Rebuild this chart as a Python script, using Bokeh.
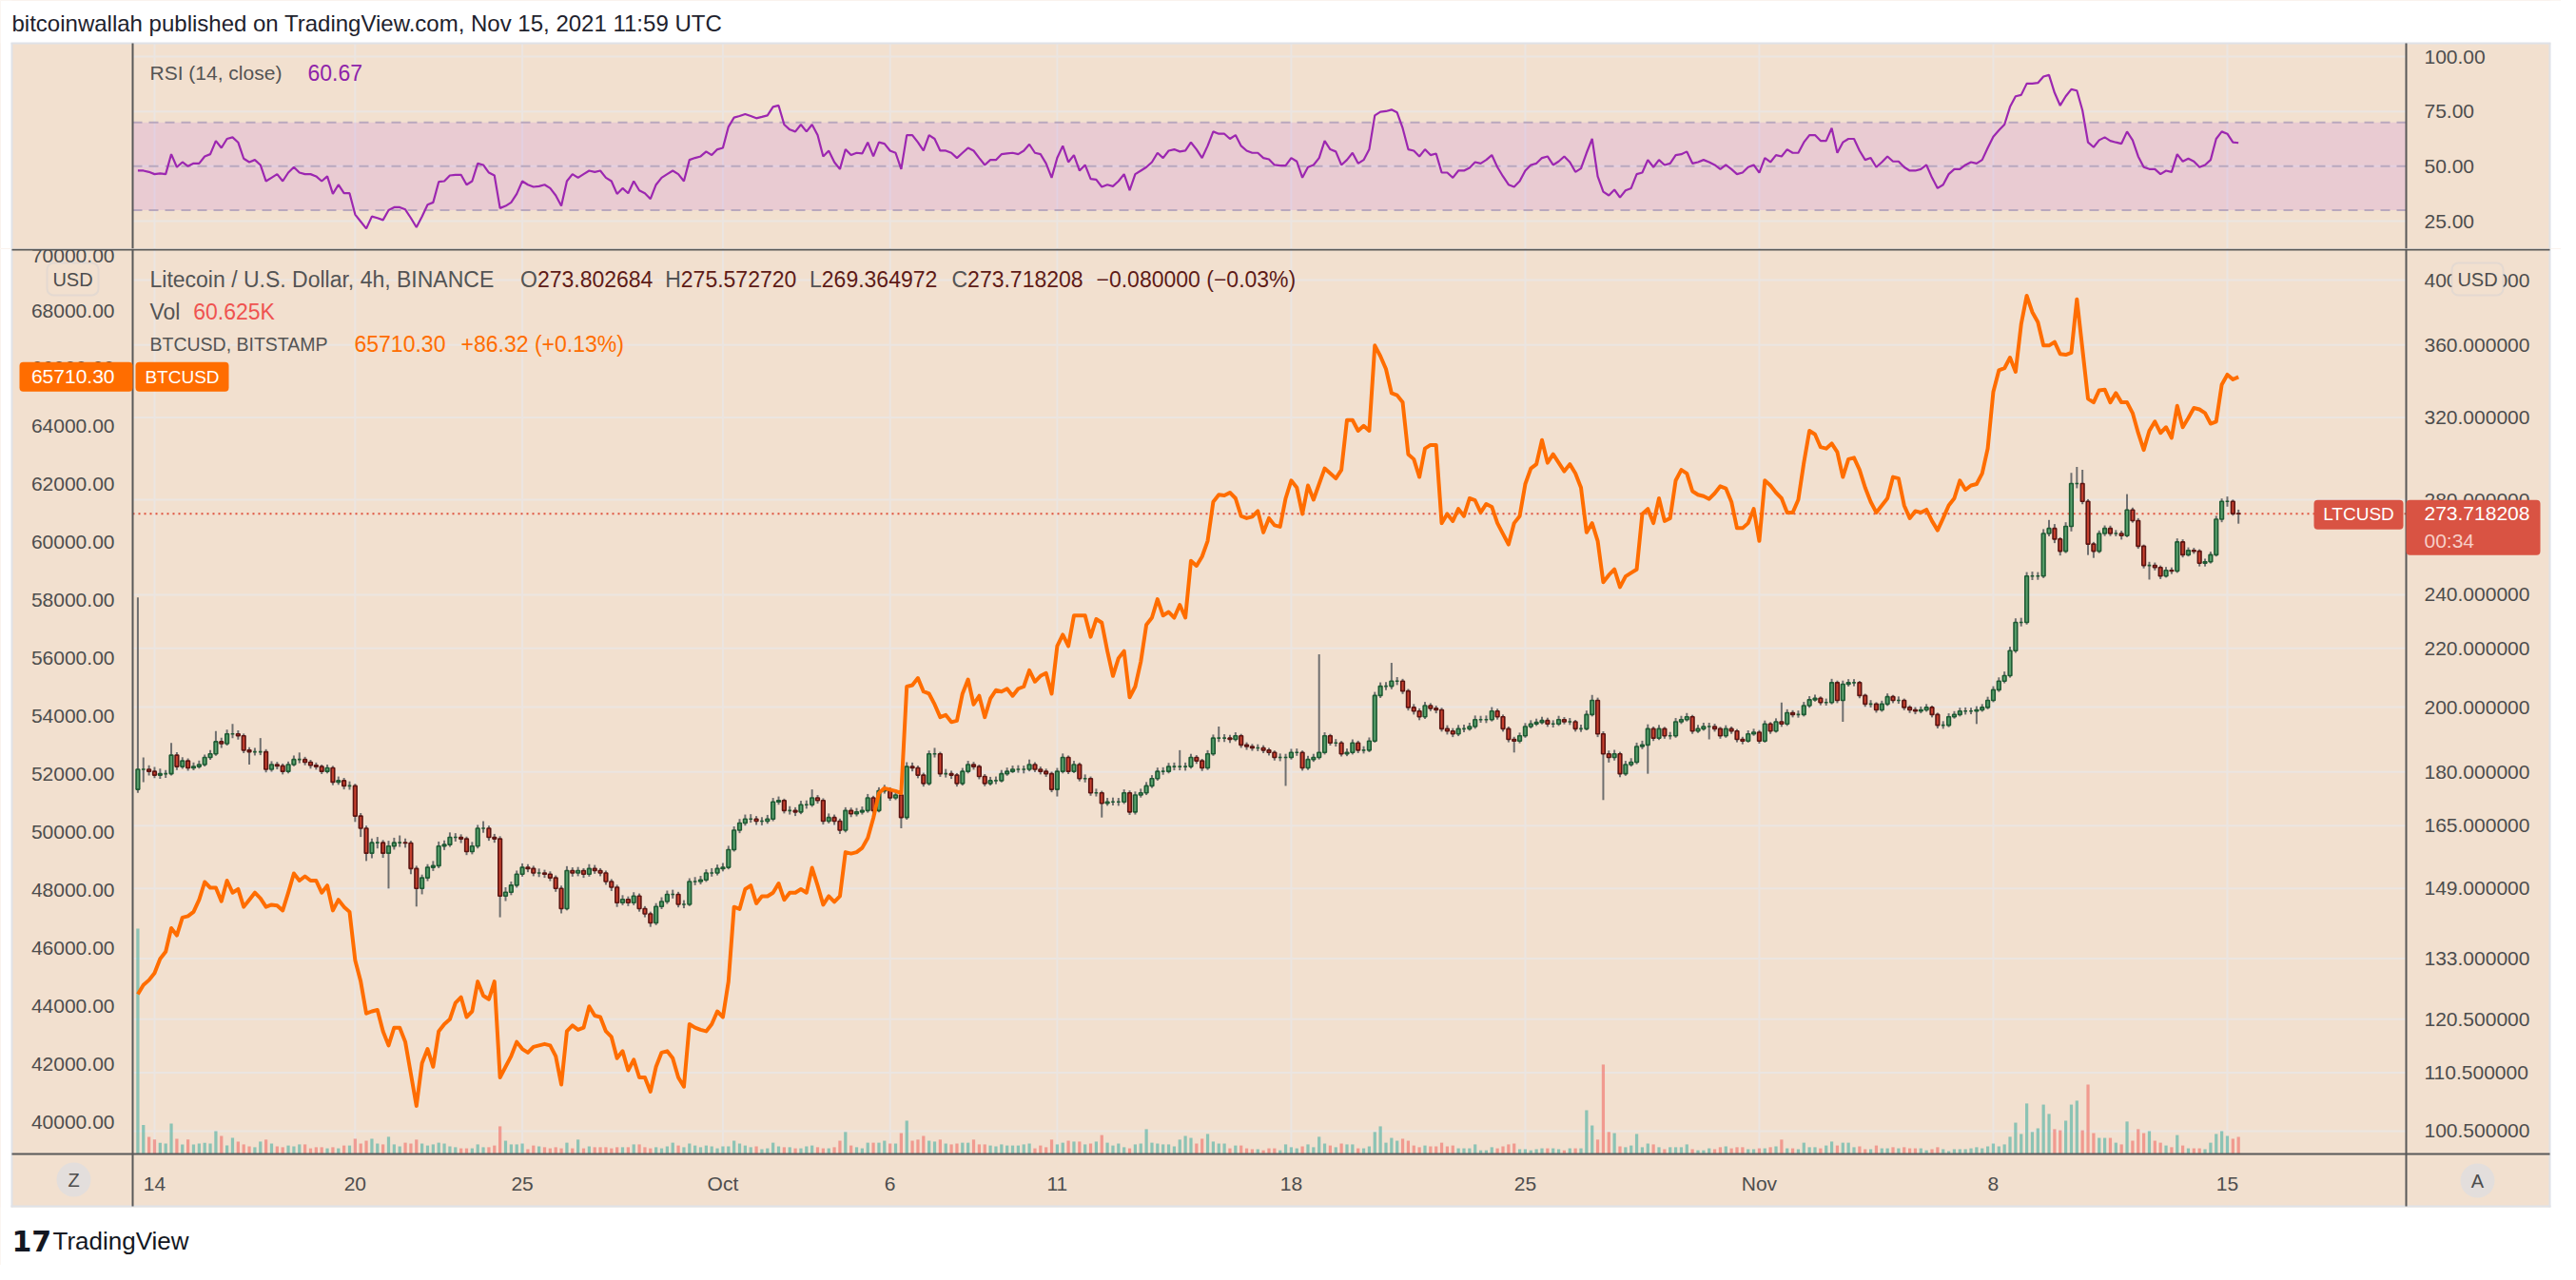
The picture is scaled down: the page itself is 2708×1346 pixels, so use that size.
import numpy as np
import pandas as pd
from bokeh.plotting import figure
from bokeh.layouts import column
from bokeh.models import (ColumnDataSource, Range1d, LinearAxis, FixedTicker,
                          PrintfTickFormatter, LinearScale, BoxAnnotation, Label)
from bokeh.embed import file_html
from bokeh.resources import INLINE

# ------------------------------------------------------------------ data
START = "2021-09-13 12:00"          # open time of first 4h candle (UTC)
LTC_FIRST_OPEN = 175.0
LTC_LAST_OPEN = 273.802684

LTC_CLOSE = [
 180.8, 180.8, 180.2, 179.1, 179.5, 179.5, 185.0, 181.6, 183.3, 181.2,
 181.6, 182.2, 184.3, 185.4, 189.1, 188.5, 191.5, 191.5, 190.9, 186.5,
 186.0, 186.0, 186.0, 180.8, 182.2, 181.8, 180.2, 182.2, 183.7, 183.7,
 182.9, 182.0, 181.6, 180.2, 181.2, 177.1, 177.5, 176.0, 176.0, 167.6,
 164.3, 157.8, 160.5, 160.5, 157.8, 159.6, 160.5, 160.5, 160.4, 153.9,
 149.0, 151.6, 154.2, 154.6, 159.6, 160.0, 161.9, 161.9, 161.5, 158.2,
 159.6, 164.3, 164.3, 161.9, 161.5, 147.2, 148.1, 149.8, 152.5, 154.2,
 153.9, 152.8, 152.8, 152.5, 151.6, 149.0, 144.2, 153.4, 152.8, 153.4,
 152.5, 153.9, 153.4, 152.8, 150.7, 149.3, 145.6, 146.4, 145.6, 147.2,
 144.2, 143.0, 140.9, 144.7, 145.9, 147.6, 147.6, 145.2, 145.2, 150.7,
 150.7, 151.1, 152.8, 152.8, 153.9, 154.2, 158.7, 163.8, 165.7, 166.8,
 166.8, 166.2, 166.2, 166.8, 171.5, 171.9, 169.1, 169.1, 168.7, 170.7,
 170.7, 172.6, 171.9, 166.2, 167.2, 166.2, 163.8, 169.1, 168.2, 168.7,
 169.1, 172.6, 169.1, 174.6, 175.0, 172.6, 173.4, 167.2, 181.6, 181.2,
 179.1, 176.7, 185.4, 185.4, 179.5, 179.5, 179.1, 176.7, 180.2, 182.2,
 181.6, 178.7, 176.7, 177.5, 177.5, 179.5, 180.2, 180.8, 180.8, 180.8,
 182.2, 180.8, 180.2, 179.5, 175.0, 180.2, 184.3, 180.2, 182.2, 178.1,
 178.1, 174.0, 174.0, 171.1, 171.5, 171.5, 171.5, 174.0, 168.7, 173.4,
 174.0, 176.0, 178.1, 180.2, 180.2, 181.6, 181.6, 181.6, 181.6, 184.3,
 183.3, 181.2, 185.4, 190.2, 190.2, 190.2, 189.8, 190.9, 188.1, 187.6,
 187.2, 187.2, 186.5, 185.8, 184.3, 184.3, 184.3, 185.8, 185.8, 181.2,
 183.7, 184.3, 185.8, 190.9, 188.7, 188.7, 185.4, 185.8, 188.7, 186.5,
 186.5, 189.3, 203.8, 206.9, 206.9, 208.6, 208.6, 205.3, 199.9, 198.7,
 196.9, 200.5, 199.6, 199.1, 193.1, 192.4, 191.5, 193.1, 193.1, 193.8,
 196.0, 196.0, 196.0, 198.7, 196.9, 193.1, 189.8, 189.3, 190.9, 193.8,
 194.6, 195.1, 195.7, 194.6, 194.6, 196.0, 195.3, 195.3, 193.1, 193.1,
 197.6, 202.2, 191.5, 185.4, 184.3, 185.4, 179.5, 182.2, 182.9, 187.6,
 188.1, 193.1, 190.2, 193.1, 190.9, 190.9, 195.3, 196.0, 196.9, 192.4,
 193.1, 193.8, 193.8, 193.1, 190.9, 193.1, 192.4, 189.8, 189.3, 191.5,
 192.0, 189.3, 194.6, 192.4, 195.3, 194.6, 198.2, 197.6, 197.6, 200.5,
 202.4, 202.9, 201.5, 201.5, 208.1, 202.2, 207.6, 208.1, 208.1, 203.8,
 201.0, 201.0, 199.1, 201.0, 203.4, 202.2, 202.2, 199.9, 199.1, 198.7,
 199.1, 199.9, 197.6, 194.2, 194.2, 196.9, 197.6, 198.7, 198.7, 198.7,
 199.1, 199.9, 202.2, 205.7, 208.6, 210.5, 219.2, 229.5, 229.5, 247.4,
 247.4, 247.4, 265.1, 267.3, 262.7, 257.6, 268.2, 287.5, 287.5, 279.3,
 260.6, 257.6, 265.1, 267.3, 265.1, 265.1, 264.2, 275.4, 270.7, 259.7,
 251.7, 251.7, 250.9, 247.4, 249.7, 249.4, 261.5, 256.1, 257.9, 257.6,
 252.6, 253.2, 256.1, 271.3, 279.3, 279.3, 273.798208, 273.718208]

LTC_HIGH = [
 239.0, 184.3, 182.0, 181.5, 181.0, 180.6, 188.7, 185.9, 184.4, 184.0,
 182.8, 183.4, 185.2, 186.5, 192.4, 190.3, 192.8, 194.6, 192.6, 191.6,
 187.4, 187.2, 190.2, 186.8, 183.2, 183.0, 182.5, 183.1, 184.9, 185.8,
 184.5, 183.6, 182.8, 182.2, 182.2, 181.8, 178.7, 178.3, 177.3, 176.6,
 168.4, 165.0, 161.6, 162.0, 161.2, 161.0, 161.8, 162.4, 161.6, 161.0,
 154.6, 152.4, 155.0, 155.8, 160.8, 161.1, 163.2, 163.0, 162.7, 162.1,
 160.7, 165.2, 166.2, 165.0, 162.8, 162.2, 149.3, 150.7, 153.4, 155.2,
 155.0, 154.6, 153.9, 153.6, 153.2, 152.2, 149.7, 154.5, 154.2, 154.3,
 154.0, 155.0, 154.8, 154.0, 153.4, 151.3, 149.9, 147.4, 147.1, 148.1,
 147.8, 144.8, 143.5, 145.5, 146.9, 148.5, 148.7, 148.2, 146.2, 151.5,
 151.8, 152.1, 153.7, 154.0, 154.9, 155.3, 159.7, 164.8, 166.8, 168.0,
 168.1, 167.6, 167.3, 167.9, 172.6, 173.0, 172.4, 170.3, 170.0, 171.8,
 171.9, 175.0, 173.4, 172.5, 168.3, 168.0, 166.9, 170.0, 169.9, 169.8,
 170.2, 173.7, 173.2, 175.6, 176.3, 175.6, 174.5, 174.0, 182.9, 182.8,
 181.9, 179.8, 186.4, 187.2, 186.0, 180.9, 180.4, 179.7, 181.2, 183.3,
 183.0, 182.2, 179.4, 178.6, 178.7, 180.6, 181.3, 181.9, 182.0, 181.9,
 183.7, 182.9, 181.6, 181.0, 180.1, 181.2, 185.5, 184.9, 183.3, 182.8,
 179.3, 178.7, 175.2, 174.6, 172.6, 172.7, 172.6, 175.0, 174.7, 174.4,
 175.2, 177.1, 179.1, 181.3, 181.4, 182.7, 182.8, 186.5, 182.8, 185.4,
 185.0, 183.9, 186.5, 191.3, 193.8, 191.4, 191.2, 192.0, 191.5, 188.9,
 188.4, 188.3, 188.0, 187.2, 186.4, 185.5, 185.4, 186.9, 187.0, 186.4,
 184.8, 185.4, 217.9, 192.0, 191.5, 189.9, 189.3, 187.0, 189.8, 189.4,
 187.7, 190.4, 205.0, 208.2, 208.3, 214.9, 210.0, 209.4, 206.0, 201.0,
 199.6, 201.7, 201.3, 200.5, 199.8, 194.2, 193.3, 194.3, 194.4, 195.0,
 197.3, 197.2, 197.3, 200.0, 199.5, 197.6, 193.8, 190.6, 191.9, 194.9,
 195.8, 196.3, 196.9, 196.6, 195.8, 197.2, 196.8, 196.5, 195.9, 194.4,
 198.9, 204.0, 203.1, 192.3, 186.4, 186.6, 186.0, 183.3, 184.1, 188.8,
 189.4, 194.5, 193.8, 194.3, 193.7, 192.1, 196.5, 197.2, 198.1, 197.5,
 194.3, 195.0, 195.0, 194.7, 193.7, 194.2, 193.8, 193.0, 190.6, 192.6,
 193.1, 192.7, 195.7, 195.2, 196.4, 201.5, 199.3, 199.0, 198.9, 201.7,
 203.6, 204.1, 203.5, 202.8, 209.4, 208.8, 208.8, 209.3, 209.3, 208.7,
 204.4, 202.3, 201.6, 202.1, 204.5, 204.0, 203.5, 202.8, 200.6, 200.0,
 200.2, 201.0, 200.5, 198.2, 195.5, 198.0, 198.7, 199.8, 199.9, 199.8,
 200.3, 201.0, 203.4, 206.9, 209.9, 211.9, 220.6, 231.0, 231.2, 249.0,
 249.2, 249.0, 267.0, 271.0, 269.2, 263.5, 270.0, 292.5, 295.4, 294.0,
 280.3, 261.5, 266.4, 268.6, 268.5, 266.6, 266.3, 282.6, 276.5, 271.8,
 260.4, 253.2, 252.9, 251.7, 251.1, 250.9, 263.0, 262.6, 259.2, 259.0,
 258.4, 254.5, 257.4, 272.8, 280.6, 281.5, 280.1, 275.572720]

LTC_LOW = [
 174.0, 177.1, 179.0, 178.2, 178.0, 178.3, 179.0, 180.6, 180.9, 180.4,
 180.5, 181.0, 181.6, 183.6, 184.8, 187.2, 187.9, 190.2, 189.7, 185.6,
 182.2, 184.9, 185.0, 179.9, 180.1, 180.8, 179.3, 179.6, 181.7, 182.6,
 182.0, 181.0, 180.7, 179.4, 179.6, 176.2, 176.3, 175.0, 174.9, 166.0,
 162.0, 155.8, 156.5, 159.0, 156.6, 149.0, 158.7, 159.4, 159.2, 152.5,
 144.7, 147.6, 150.8, 153.3, 154.0, 158.6, 159.4, 160.8, 160.4, 157.3,
 157.5, 159.0, 163.1, 161.0, 160.5, 142.2, 146.0, 147.4, 149.2, 151.9,
 153.0, 152.0, 151.8, 151.6, 150.8, 148.2, 143.1, 143.8, 151.9, 152.0,
 151.6, 151.9, 152.6, 152.0, 149.9, 148.4, 144.6, 145.0, 144.8, 145.0,
 143.5, 142.2, 140.0, 140.4, 144.1, 145.3, 146.6, 144.5, 144.3, 144.8,
 149.8, 150.0, 150.6, 151.9, 152.2, 153.2, 153.7, 158.2, 163.0, 165.0,
 165.8, 165.2, 165.1, 165.5, 166.2, 170.7, 168.3, 168.0, 167.6, 168.1,
 169.6, 170.1, 171.0, 165.3, 165.6, 165.2, 162.8, 163.2, 167.3, 167.5,
 168.0, 168.5, 168.3, 168.6, 173.8, 171.8, 172.0, 164.3, 166.6, 180.2,
 178.2, 175.8, 176.1, 184.3, 178.6, 178.4, 178.0, 175.8, 176.1, 179.6,
 180.7, 177.9, 175.9, 176.1, 176.5, 177.0, 178.9, 179.7, 179.8, 179.6,
 180.2, 180.0, 179.3, 178.6, 174.2, 173.0, 179.6, 179.4, 179.7, 177.3,
 177.0, 173.2, 173.0, 167.2, 170.4, 170.5, 170.4, 170.9, 167.9, 168.0,
 172.7, 173.4, 175.4, 177.5, 179.2, 179.6, 180.5, 180.5, 180.4, 181.0,
 182.4, 180.3, 180.6, 184.8, 189.0, 189.0, 188.7, 189.2, 187.2, 186.6,
 186.3, 186.2, 185.6, 184.9, 183.4, 183.2, 176.0, 183.7, 184.8, 180.4,
 180.6, 183.0, 183.7, 185.2, 187.9, 187.6, 184.6, 184.7, 185.2, 185.6,
 185.5, 185.9, 188.8, 203.0, 205.6, 205.9, 207.3, 204.3, 198.9, 197.6,
 195.8, 196.2, 198.7, 198.0, 192.2, 191.3, 190.5, 190.8, 192.0, 192.5,
 193.1, 195.0, 194.9, 195.4, 196.0, 192.2, 188.9, 185.8, 188.6, 190.3,
 193.2, 194.0, 194.5, 193.7, 193.5, 194.0, 194.5, 194.3, 192.2, 192.1,
 192.6, 197.0, 190.5, 172.0, 182.8, 183.4, 178.5, 178.9, 181.6, 182.3,
 186.8, 179.5, 189.3, 189.6, 190.0, 189.8, 190.3, 194.6, 195.4, 191.5,
 191.8, 192.5, 189.8, 192.2, 190.0, 190.3, 191.5, 188.9, 188.3, 188.8,
 190.9, 188.5, 188.8, 191.5, 191.9, 193.7, 194.0, 196.7, 196.6, 197.0,
 199.8, 201.8, 200.6, 200.5, 200.9, 201.3, 195.3, 206.8, 206.9, 202.9,
 200.1, 199.9, 198.2, 198.5, 200.4, 201.3, 201.1, 199.0, 198.1, 197.7,
 198.0, 198.5, 196.7, 193.2, 193.1, 193.6, 196.3, 197.0, 197.6, 197.7,
 194.6, 198.5, 199.3, 201.6, 205.0, 207.9, 209.8, 218.4, 228.0, 228.7,
 245.8, 245.9, 246.6, 263.9, 261.0, 255.8, 256.8, 266.0, 285.3, 278.0,
 256.0, 254.8, 256.8, 264.0, 264.0, 263.9, 262.5, 263.5, 269.8, 258.6,
 250.5, 246.0, 249.7, 246.2, 246.8, 248.2, 248.7, 255.0, 255.4, 256.5,
 251.3, 251.3, 252.5, 255.4, 270.0, 276.9, 272.9, 269.364972]

VOLUME_K = [
 799, 103, 61, 51, 40, 37, 108, 54, 34, 51,
 34, 37, 40, 37, 81, 64, 30, 57, 44, 34,
 27, 24, 44, 51, 37, 27, 24, 30, 27, 34,
 34, 20, 24, 24, 20, 24, 20, 30, 30, 54,
 37, 47, 54, 37, 34, 61, 34, 27, 40, 37,
 51, 37, 30, 34, 40, 37, 27, 24, 20, 20,
 20, 34, 24, 24, 30, 98, 47, 34, 34, 37,
 17, 30, 27, 24, 20, 24, 20, 40, 20, 51,
 20, 27, 24, 24, 24, 20, 24, 24, 24, 34,
 34, 24, 20, 24, 20, 27, 40, 30, 24, 37,
 30, 24, 30, 27, 20, 27, 27, 47, 37, 30,
 24, 27, 17, 20, 40, 27, 24, 24, 20, 20,
 27, 30, 24, 20, 20, 24, 47, 78, 30, 24,
 20, 40, 40, 40, 47, 37, 37, 74, 118, 47,
 51, 64, 47, 44, 51, 37, 34, 37, 40, 40,
 51, 34, 34, 30, 27, 34, 30, 30, 30, 34,
 37, 20, 30, 24, 51, 34, 40, 47, 44, 44,
 34, 37, 44, 67, 40, 30, 37, 24, 20, 34,
 37, 88, 40, 37, 34, 34, 27, 51, 64, 57,
 37, 54, 71, 44, 37, 37, 20,
 30, 30, 20, 17, 17, 13, 20, 20, 13, 34,
 24, 20, 27, 34, 24, 61, 37, 30, 24, 37,
 34, 34, 20, 20, 27, 78, 98, 40, 57, 47,
 54, 47, 30, 24, 30, 27, 27, 40, 27, 30,
 20, 20, 20, 34, 13, 13, 24, 20, 27, 34,
 37, 17, 17, 13, 17, 20, 20, 20, 17, 13,
 20, 20, 20, 155, 101, 51, 317, 78, 74, 27,
 24, 30, 71, 24, 37, 34, 24, 17, 24, 24,
 24, 34, 17, 13, 13, 20, 17, 24, 27, 20,
 24, 24, 17, 17, 20, 20, 24, 27, 51, 20,
 20, 17, 40, 24, 24, 20, 30, 44, 30, 40,
 40, 24, 27, 17, 17, 30, 20, 20, 24, 20,
 24, 20, 20, 20, 13, 17, 24, 17, 10, 17,
 17, 17, 20, 24, 20, 27, 37, 27, 34, 61,
 111, 71, 179, 78, 91, 175, 142, 88, 84, 118,
 175, 189, 84, 246, 74, 57, 57, 57, 40, 34,
 115, 47, 88, 74, 81, 47, 40, 30, 24, 67,
 30, 20, 20, 20, 17, 40, 71, 81, 64, 54,
 60.625]

BTC_CLOSE = [
 44424, 44743, 44914, 45159, 45649, 45894, 46703, 46458, 47070, 47119,
 47266, 47683, 48295, 48099, 48099, 47634, 48344, 47928, 48050, 47438,
 47683, 47928, 47732, 47438, 47511, 47487, 47315, 47928, 48589, 48344,
 48491, 48344, 48344, 47928, 48173, 47315, 47683, 47438, 47266, 45600,
 44865, 43763, 43836, 43885, 43150, 42660, 43273, 43273, 42783, 41680,
 40578, 42048, 42538, 41925, 43150, 43395, 43566, 44130, 44326, 43640,
 43836, 44865, 44375, 44253, 44865, 41558, 41925, 42293, 42783, 42538,
 42415, 42611, 42660, 42709, 42660, 42293, 41313, 43150, 43346, 43199,
 43273, 44008, 43689, 43640, 43150, 42954, 42219, 42464, 41803, 42170,
 41558, 41558, 41068, 41925, 42415, 42464, 42219, 41558, 41239, 43395,
 43273, 43199, 43150, 43395, 43836, 43640, 44865, 47438, 47364, 48050,
 48173, 47560, 47805, 47805, 47928, 48246, 47683, 47928, 47928, 48050,
 47928, 48785, 48173, 47511, 47805, 47609, 47805, 49324, 49275, 49324,
 49471, 49814, 50500, 51358, 51529, 51480, 51431, 51358, 55033, 55082,
 55327, 54861, 54788, 54420, 53979, 54053, 53808, 53857, 54788, 55278,
 54420, 54714, 53979, 54616, 54910, 54861, 54959, 54714, 54959, 55033,
 55596, 55204, 55400, 55498, 54788, 56429, 56821, 56429, 57482, 57482,
 57482, 56748, 57360, 57237, 56257, 55400, 56012, 56257, 54665, 55033,
 55890, 57164, 57409, 58046, 57482, 57605, 57409, 57850, 57409, 59369,
 59197, 59516, 60055, 61403, 61648, 61623, 61721, 61525, 60913, 60839,
 60888, 61084, 60349, 60839, 60594,
 60545, 61525, 62138, 61893, 60986, 61966, 61476, 62015, 62554, 62383,
 62211, 62505, 64220, 64220, 63853, 64024, 63853, 66793, 66425, 65984,
 65151, 65078, 64833, 63044, 62873, 62260, 63240, 63363, 63363, 60668,
 60986, 60741, 61158, 60913, 61525, 61452, 61035, 61329, 61231, 60668,
 60300, 59933, 60668, 60913, 62015, 62554, 62701, 63534, 62750, 63044,
 62750, 62456, 62701, 62383, 61893, 60349, 60668, 60055, 58634, 58879,
 59075, 58463, 58830, 58953, 59075, 60986, 61158, 60668, 61525, 60741,
 60839, 62138, 62505, 62383, 61770, 61648, 61599, 61501, 61697, 61942,
 61868, 61403, 60496, 60496, 60668, 61158, 60055, 62138, 61966, 61721,
 61525, 61035, 61035, 61476, 62750, 63853, 63730, 63289, 63240, 63412,
 63118, 62260, 62873, 62922, 62505, 61893, 61403, 61035, 61280, 61525,
 62260, 62211, 61280, 60839, 61084, 61035, 61133, 60741, 60423, 60839,
 61280, 61525, 62138, 61819, 61966, 62015, 62383, 63240, 65200, 65935,
 66009, 66376, 65886, 67528, 68508, 67944, 67601, 66793, 66793, 66915,
 66499, 66474, 66548, 68385, 66670, 64955, 64833, 65249, 65274, 64833,
 65151, 64833, 64833, 64465, 63779, 63191, 63853, 64171, 63779, 63975,
 63608, 64710, 63975, 64297, 64640, 64590, 64465, 64098, 64171, 65445,
 65788, 65623.98, 65710.30]

RSI_VALUES = [
 48.0, 48.0, 47.4, 46.4, 46.7, 46.4, 55.5, 49.6, 51.9, 50.0,
 51.3, 51.3, 54.5, 55.5, 61.6, 58.4, 62.5, 63.2, 60.9, 53.5,
 51.9, 52.9, 50.6, 43.2, 44.8, 46.4, 43.2, 47.1, 49.6, 47.1,
 46.4, 46.4, 45.4, 43.2, 45.4, 37.4, 41.6, 37.7, 37.7, 28.0,
 24.8, 21.6, 27.1, 26.4, 25.5, 30.0, 31.3, 31.3, 30.3, 26.4,
 22.2, 27.1, 32.5, 33.5, 42.9, 43.2, 45.8, 46.1, 46.1, 41.6,
 43.2, 51.3, 50.6, 47.1, 45.8, 30.9, 31.9, 33.5, 37.4, 43.2,
 41.6, 40.6, 40.9, 41.6, 40.0, 36.7, 31.9, 43.2, 46.4, 44.8,
 46.4, 48.0, 47.4, 48.0, 44.8, 43.2, 37.4, 40.0, 37.7, 43.2,
 39.0, 37.7, 35.1, 41.6, 44.8, 46.4, 48.0, 46.4, 43.2, 52.9,
 53.8, 54.5, 56.7, 55.1, 57.7, 58.4, 68.0, 72.2, 72.9, 73.8,
 72.9, 71.9, 72.5, 73.2, 77.1, 77.7, 69.0, 66.7, 65.8, 69.0,
 65.8, 69.0, 64.2, 54.5, 57.1, 51.9, 48.7, 57.7, 55.1, 56.1,
 55.8, 60.9, 54.5, 60.9, 60.3, 57.1, 56.1, 48.7, 64.2, 64.2,
 60.9, 57.1, 64.2, 62.5, 57.1, 57.1, 56.1, 53.8, 56.1, 58.4,
 57.1, 53.8, 50.6, 52.9, 52.9, 55.5, 55.8, 56.1, 55.5, 57.1,
 60.0, 56.1, 55.5, 51.3, 44.8, 53.8, 59.3, 51.9, 55.1, 48.0,
 50.6, 44.2, 43.9, 40.6, 41.6, 40.9, 43.2, 46.4, 39.0, 46.4,
 48.0, 49.6, 51.9, 56.1, 53.8, 57.1, 57.7, 56.7, 57.1, 60.9,
 57.7, 53.8, 59.3, 65.8, 64.8, 64.8, 62.5, 64.2, 59.3, 57.1,
 56.1, 56.1, 53.8, 53.2, 50.6, 50.3, 50.3, 53.8, 52.2, 44.8,
 49.6, 50.6, 53.8, 61.6, 57.7, 56.7, 50.6, 52.9, 56.1, 51.3,
 52.9, 57.7, 73.2, 74.8, 75.1, 75.8, 74.5, 67.4, 57.7, 57.1,
 54.5, 57.7, 55.1, 55.8, 47.1, 47.1, 44.8, 48.0, 48.0, 49.3,
 51.9, 51.3, 52.9, 55.1, 49.6, 45.4, 41.6, 40.6, 43.2, 48.0,
 50.6, 51.3, 53.8, 54.5, 50.6, 52.2, 54.5, 51.9, 47.4, 49.0,
 56.1, 62.5, 45.4, 38.4, 36.7, 39.3, 35.8, 39.0, 40.0, 46.4,
 47.1, 52.9, 49.6, 52.9, 50.6, 51.3, 55.1, 55.5, 56.7, 51.3,
 51.9, 52.9, 51.9, 50.6, 48.7, 50.6, 48.7, 46.4, 47.1, 49.6,
 50.6, 47.1, 53.8, 51.9, 55.1, 54.5, 57.7, 56.1, 56.1, 60.9,
 64.2, 64.2, 61.6, 61.6, 67.4, 56.1, 60.9, 62.5, 62.5, 57.1,
 52.9, 53.8, 49.6, 51.9, 54.5, 52.2, 52.2, 49.6, 48.0, 48.0,
 48.7, 50.6, 44.8, 40.0, 41.6, 46.4, 48.7, 48.7, 50.6, 51.9,
 51.3, 52.9, 58.4, 63.5, 66.4, 69.0, 77.1, 81.9, 82.5, 87.7,
 87.7, 88.0, 90.9, 91.6, 83.5, 77.7, 81.9, 85.1, 84.5, 75.5,
 60.9, 58.7, 61.9, 63.2, 61.6, 60.9, 60.3, 65.8, 61.9, 54.5,
 49.6, 48.7, 48.7, 46.4, 48.0, 47.4, 55.5, 52.2, 53.5, 52.2,
 49.6, 50.6, 52.9, 62.5, 65.8, 64.8, 60.9, 60.67]

TICK_DATES = ["2021-09-14", "2021-09-20", "2021-09-25", "2021-10-01", "2021-10-06",
              "2021-10-11", "2021-10-18", "2021-10-25", "2021-11-01", "2021-11-08",
              "2021-11-15"]
TICK_LABELS = ["14", "20", "25", "Oct", "6", "11", "18", "25", "Nov", "8", "15"]
LTC_TICKS = [100.5, 110.5, 120.5, 133, 149, 165, 180, 200, 220, 240, 280, 320, 360, 400]
BTC_TICKS = [40000, 42000, 44000, 46000, 48000, 50000, 52000, 54000, 56000, 58000,
             60000, 62000, 64000, 66000, 68000, 70000]
RSI_TICKS = [25, 50, 75, 100]
RSI_LEVELS = [30, 50, 70]
COUNTDOWN = "00:34"
HEADER = "bitcoinwallah published on TradingView.com, Nov 15, 2021 11:59 UTC"

# ------------------------------------------------------------------ derived
n = len(LTC_CLOSE)
assert all(len(a) == n for a in (LTC_HIGH, LTC_LOW, VOLUME_K, BTC_CLOSE, RSI_VALUES)), \
    [len(a) for a in (LTC_CLOSE, LTC_HIGH, LTC_LOW, VOLUME_K, BTC_CLOSE, RSI_VALUES)]
start = pd.Timestamp(START)
step = pd.Timedelta(hours=4)
xs = np.arange(n, dtype=float)                      # candle number (4h steps from START)
tick_x = [float((pd.Timestamp(d) - start) / step) for d in TICK_DATES]

opens = [LTC_FIRST_OPEN] + LTC_CLOSE[:-1]
opens[-1] = LTC_LAST_OPEN
closes = LTC_CLOSE
up = [c >= o for o, c in zip(opens, closes)]

# ------------------------------------------------------------------ page geometry
# page pixels (window coords); figures start at (8, 8)
PX0, PXSTEP = 152.4, 5.8575          # x pixel of candle 0, pixels per candle
def x_at(px):
    return (px - PX0) / PXSTEP

PANE_L, PANE_R = 147, 2537           # price-scale separators
TOP_Y, SPLIT_Y, TIME_Y, BOX_B = 53, 269, 1221, 1276
LTC_Y400, LTC_LNPX = 302.0, 647.9    # y of 400 on the log scale, px per ln-unit
BTC_Y68K, BTC_USDPX = 334.0, 32.787
VOL_PER_PX = 3.37
RSI_Y100, RSI_PXU = 67.0, 2.3067

def ltc_at(py):
    return 400.0 * np.exp(-(py - LTC_Y400) / LTC_LNPX)
def btc_at(py):
    return 68000.0 - (py - BTC_Y68K) * BTC_USDPX
def vol_at(py):
    return (TIME_Y - py) * VOL_PER_PX
def rsi_at(py):
    return 100.0 - (py - RSI_Y100) / RSI_PXU

W = 2692
HT, HM = SPLIT_Y - 8, 1338 - SPLIT_Y
XL, XR = x_at(PANE_L), x_at(PANE_R)
xr = Range1d(x_at(8), x_at(8 + W))

# ------------------------------------------------------------------ style
FONT = "Liberation Sans"
BG = "#f2e0cf"
WHITE = "#ffffff"
GRID = "#ebe5e1"
SEP = "#595959"
FRAME = "#dfe2e8"
AXIS_TXT = "#4d4d4d"
LEG_TXT = "#545454"
DARK_RED = "#5e1b17"
ORANGE = "#ff6d00"
PURPLE = "#9c27b0"
PURPLE_TXT = "#8e24aa"
UP_FILL, UP_LINE = "#58a06c", "#1e5a33"
DN_FILL, DN_LINE = "#c8412f", "#5c1512"
WICK = "#6f6f6f"
VOL_UP, VOL_DN = "#26a69a", "#ef5350"
PRICE_RED = "#d95343"
BAND = "#b45ae6"
BAND_LINE = "#b9a8bd"


def style_axis(ax, standoff):
    ax.axis_line_color = None
    ax.major_tick_line_color = None
    ax.minor_tick_line_color = None
    ax.major_tick_out = 0
    ax.major_tick_in = 0
    ax.major_label_standoff = standoff
    ax.major_label_text_font = FONT
    ax.major_label_text_font_size = "21px"
    ax.major_label_text_color = AXIS_TXT


def cbox(p, l, t, r, b, color, alpha=1.0, **kw):
    kw.setdefault("line_color", None)
    p.add_layout(BoxAnnotation(left=l, right=r, top=t, bottom=b,
                               left_units="canvas", right_units="canvas",
                               top_units="canvas", bottom_units="canvas",
                               fill_color=color, fill_alpha=alpha, **kw))


def ctext(p, x, y, text, color, size=21, align="left", font=FONT, style="normal"):
    p.add_layout(Label(x=x, y=y, x_units="canvas", y_units="canvas",
                       text=text, text_color=color, text_font=font,
                       text_font_size=f"{size}px", text_align=align,
                       text_baseline="middle", text_font_style=style))


def make_fig(h, yr, **kw):
    p = figure(width=W, height=h, x_range=xr, y_range=yr,
               min_border_left=0, min_border_right=0, min_border_top=0, min_border_bottom=0,
               toolbar_location=None, output_backend="svg",
               background_fill_color=BG, border_fill_color=BG, outline_line_color=None, **kw)
    p.grid.visible = False
    return p


# ------------------------------------------------------------------ RSI pane (+ header strip)
pt = make_fig(HT, Range1d(rsi_at(SPLIT_Y), rsi_at(8)), x_axis_location=None, y_axis_location="right")
rsi_axis = pt.yaxis[0]
rsi_axis.ticker = FixedTicker(ticks=RSI_TICKS)
rsi_axis.formatter = PrintfTickFormatter(format="%.2f")
rsi_axis.fixed_location = XR
style_axis(rsi_axis, 19)

R_TOP, R_BOT = rsi_at(TOP_Y), rsi_at(SPLIT_Y)
pt.segment(x0=[XL] * len(RSI_TICKS), y0=RSI_TICKS, x1=[XR] * len(RSI_TICKS), y1=RSI_TICKS,
           line_color=GRID, line_width=2)
pt.segment(x0=tick_x, y0=[R_BOT] * len(tick_x), x1=tick_x, y1=[R_TOP] * len(tick_x),
           line_color=GRID, line_width=2)
pt.quad(left=[XL], right=[XR], bottom=[RSI_LEVELS[0]], top=[RSI_LEVELS[-1]],
        fill_color=BAND, fill_alpha=0.15, line_color=None)
pt.segment(x0=[XL] * 3, y0=RSI_LEVELS, x1=[XR] * 3, y1=RSI_LEVELS,
           line_color=BAND_LINE, line_width=2, line_dash="10 7")
pt.line(xs, RSI_VALUES, line_color=PURPLE, line_width=2.2)

cbox(pt, 0, 0, W, TOP_Y - 8, WHITE)                        # header strip
cbox(pt, 0, 0, 12, HT, WHITE)
cbox(pt, 2680, 0, W, HT, WHITE)
cbox(pt, 11, 44, 2681, 46, FRAME)                          # chart box edges
cbox(pt, 11, 45, 13, HT, FRAME)
cbox(pt, 2679, 45, 2681, HT, FRAME)
cbox(pt, 138, 45, 140, HT, SEP)                            # price-scale separators
cbox(pt, 2528, 45, 2530, HT, SEP)

ctext(pt, 12, 24, HEADER, "#1e222d", size=24)
ctext(pt, 157, 76, "RSI (14, close)", LEG_TXT, size=21)
ctext(pt, 323, 76, f"{RSI_VALUES[-1]:.2f}", PURPLE_TXT, size=23)

# ------------------------------------------------------------------ main pane (+ time scale, footer)
pm = make_fig(HM, Range1d(ltc_at(1338), ltc_at(SPLIT_Y)), y_axis_type="log", y_axis_location="right")
pm.extra_y_ranges = {"btc": Range1d(btc_at(1338), btc_at(SPLIT_Y)),
                     "vol": Range1d(vol_at(1338), vol_at(SPLIT_Y))}
pm.extra_y_scales = {"btc": LinearScale(), "vol": LinearScale()}

L_TOP, L_BOT = ltc_at(SPLIT_Y), ltc_at(TIME_Y)

ltc_axis = pm.yaxis[0]
ltc_axis.ticker = FixedTicker(ticks=LTC_TICKS)
ltc_axis.formatter = PrintfTickFormatter(format="%.6f")
ltc_axis.fixed_location = XR
style_axis(ltc_axis, 19)

btc_axis = LinearAxis(y_range_name="btc", ticker=FixedTicker(ticks=BTC_TICKS),
                      formatter=PrintfTickFormatter(format="%.2f"), fixed_location=XL)
style_axis(btc_axis, 19)
pm.add_layout(btc_axis, "left")

xa = pm.xaxis[0]
xa.ticker = FixedTicker(ticks=tick_x)
xa.major_label_overrides = {t: lab for t, lab in zip(tick_x, TICK_LABELS)}
xa.fixed_location = L_BOT
style_axis(xa, 19)

pm.segment(x0=[XL] * len(LTC_TICKS), y0=LTC_TICKS, x1=[XR] * len(LTC_TICKS), y1=LTC_TICKS,
           line_color=GRID, line_width=2)
pm.segment(x0=tick_x, y0=[L_BOT] * len(tick_x), x1=tick_x, y1=[L_TOP] * len(tick_x),
           line_color=GRID, line_width=2)

src = ColumnDataSource(dict(
    x=xs, o=opens, h=LTC_HIGH, l=LTC_LOW, c=closes,
    top=[max(o, c) for o, c in zip(opens, closes)],
    bot=[min(o, c) for o, c in zip(opens, closes)],
    fill=[UP_FILL if u else DN_FILL for u in up],
    edge=[UP_LINE if u else DN_LINE for u in up],
    vol=VOLUME_K,
    vcol=[VOL_UP if u else VOL_DN for u in up],
))

c_last = closes[-1]
pm.vbar(x="x", width=0.55, top="vol", bottom=0, y_range_name="vol", source=src,
        fill_color="vcol", fill_alpha=0.5, line_color=None)
pm.segment(x0=[XL], y0=[c_last], x1=[XR], y1=[c_last], line_color="#e0533f",
           line_width=2, line_dash="2 4")
pm.segment(x0="x", y0="l", x1="x", y1="h", source=src, line_color=WICK, line_width=2)
pm.vbar(x="x", width=0.62, top="top", bottom="bot", source=src,
        fill_color="fill", line_color="edge", line_width=1.6)
pm.line(xs, BTC_CLOSE, y_range_name="btc", line_color=ORANGE, line_width=4, line_join="round")

# chrome (canvas pixels of this figure = page pixels - (8, 269))
cbox(pm, 0, 0, 12, HM, WHITE)
cbox(pm, 2680, 0, W, HM, WHITE)
cbox(pm, 0, BOX_B - SPLIT_Y + 1, W, HM, WHITE)
cbox(pm, 11, 0, 13, BOX_B - SPLIT_Y + 1, FRAME)
cbox(pm, 2679, 0, 2681, BOX_B - SPLIT_Y + 1, FRAME)
cbox(pm, 11, BOX_B - SPLIT_Y - 1, 2681, BOX_B - SPLIT_Y + 1, FRAME)
cbox(pm, 12, 0, 2680, 2, SEP)                              # pane separator
cbox(pm, 138, 0, 140, BOX_B - SPLIT_Y, SEP)
cbox(pm, 2528, 0, 2530, BOX_B - SPLIT_Y, SEP)
cbox(pm, 12, TIME_Y - SPLIT_Y - 1, 2680, TIME_Y - SPLIT_Y + 1, SEP)   # time-scale separator

# USD badges
cbox(pm, 49, 15, 103, 49, BG, line_color="#c3cad8", line_width=2, border_radius=7)
cbox(pm, 2577, 15, 2631, 49, BG, line_color="#c3cad8", line_width=2, border_radius=7)
ctext(pm, 76, 32, "USD", AXIS_TXT, size=20, align="center")
ctext(pm, 2604, 32, "USD", AXIS_TXT, size=20, align="center")

# Z / A buttons
cbox(pm, 59, 961, 95, 997, "#e3dedc", border_radius=18)
cbox(pm, 2586, 962, 2622, 998, "#e3dedc", border_radius=18)
ctext(pm, 77, 979, "Z", AXIS_TXT, size=20, align="center")
ctext(pm, 2604, 980, "A", AXIS_TXT, size=20, align="center")

# BTC last-value badges (on the BTC scale)
btc_last = BTC_CLOSE[-1]
for l, r in ((20, 139), (142, 240)):
    pm.add_layout(BoxAnnotation(left=l, right=r, left_units="canvas", right_units="canvas",
                                top=btc_last + 15.5 * BTC_USDPX, bottom=btc_last - 15.5 * BTC_USDPX,
                                y_range_name="btc", fill_color=ORANGE, fill_alpha=1.0,
                                line_color=None, border_radius=4))
pm.add_layout(Label(x=120, y=btc_last, x_units="canvas", y_range_name="btc",
                    text=f"{btc_last:.2f}", text_color=WHITE, text_font=FONT, text_font_size="21px",
                    text_align="right", text_baseline="middle"))
pm.add_layout(Label(x=191, y=btc_last, x_units="canvas", y_range_name="btc",
                    text="BTCUSD", text_color=WHITE, text_font=FONT, text_font_size="19px",
                    text_align="center", text_baseline="middle"))

# LTC last-value badges (on the LTC scale)
def ltc_off(px):
    return c_last * np.exp(px / LTC_LNPX)
pm.add_layout(BoxAnnotation(left=2432, right=2526, left_units="canvas", right_units="canvas",
                            top=ltc_off(14.6), bottom=ltc_off(-16.4), fill_color=PRICE_RED,
                            fill_alpha=1.0, line_color=None, border_radius=4))
pm.add_layout(BoxAnnotation(left=2529, right=2670, left_units="canvas", right_units="canvas",
                            top=ltc_off(14.6), bottom=ltc_off(-43.4), fill_color=PRICE_RED,
                            fill_alpha=1.0, line_color=None, border_radius=4))
pm.add_layout(Label(x=2479, y=c_last, x_units="canvas", text="LTCUSD", text_color=WHITE,
                    text_font=FONT, text_font_size="19px", text_align="center", text_baseline="middle"))
pm.add_layout(Label(x=2548, y=c_last, x_units="canvas", text=f"{c_last:.6f}", text_color=WHITE,
                    text_font=FONT, text_font_size="21px", text_align="left", text_baseline="middle"))
pm.add_layout(Label(x=2548, y=ltc_off(-28.4), x_units="canvas", text=COUNTDOWN, text_color="#f7cfc7",
                    text_font=FONT, text_font_size="21px", text_align="left", text_baseline="middle"))

# legend
chg = c_last - closes[-2]
pct = chg / closes[-2] * 100
minus = lambda s: s.replace("-", "\u2212")
ctext(pm, 157, 32, "Litecoin / U.S. Dollar, 4h, BINANCE", LEG_TXT, size=23)
for x0, letter, val in ((546.5, "O", opens[-1]), (698.7, "H", LTC_HIGH[-1]),
                        (850.5, "L", LTC_LOW[-1]), (1000.0, "C", c_last)):
    ctext(pm, x0, 32, letter, LEG_TXT, size=23)
    lw = {"O": 17.9, "H": 16.6, "L": 12.8, "C": 16.6}[letter]
    ctext(pm, x0 + lw, 32, f"{val:.6f}", DARK_RED, size=23)
ctext(pm, 1152, 32, minus(f"{chg:.6f} ({pct:.2f}%)"), DARK_RED, size=23)
ctext(pm, 157, 66, "Vol", LEG_TXT, size=23)
ctext(pm, 202.7, 66, f"{VOLUME_K[-1]:.3f}K", VOL_DN, size=23)
b_chg = BTC_CLOSE[-1] - BTC_CLOSE[-2]
b_pct = b_chg / BTC_CLOSE[-2] * 100
ctext(pm, 157, 100, "BTCUSD, BITSTAMP", LEG_TXT, size=19.5)
ctext(pm, 372, 100, f"{BTC_CLOSE[-1]:.2f}", ORANGE, size=23)
ctext(pm, 484, 100, minus(f"{b_chg:+.2f} ({b_pct:+.2f}%)"), ORANGE, size=23)

# footer
ctext(pm, 12, 1043, "17", "#131722", size=30, font="DejaVu Sans", style="bold")
ctext(pm, 55, 1043, "TradingView", "#131722", size=26)

layout = column(pt, pm, spacing=0)
open("out.html", "w").write(file_html(layout, INLINE, title="LTCUSD 4h"))
